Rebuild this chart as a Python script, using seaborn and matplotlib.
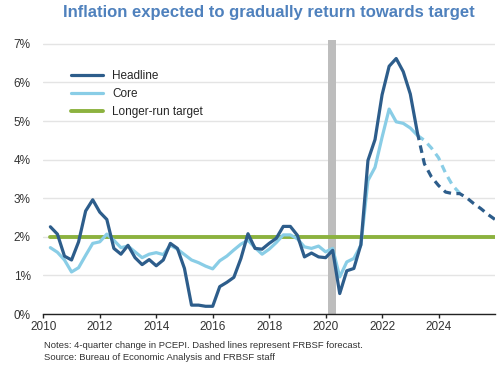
import numpy as np
import pandas as pd
import seaborn as sns
import matplotlib.pyplot as plt

# quarterly 4-quarter change in PCEPI, dated at quarter end
actual_dates = np.arange(2010.25, 2023.26, 0.25)
headline = [2.26, 2.07, 1.50, 1.40, 1.87, 2.67, 2.96, 2.64, 2.45, 1.70,
            1.55, 1.78, 1.46, 1.28, 1.41, 1.25, 1.40, 1.83, 1.70, 1.18,
            0.23, 0.23, 0.20, 0.20, 0.71, 0.82, 0.95, 1.44, 2.08, 1.70,
            1.68, 1.83, 1.96, 2.27, 2.27, 2.04, 1.48, 1.58, 1.48, 1.46,
            1.65, 0.53, 1.12, 1.18, 1.80, 3.98, 4.52, 5.68, 6.42, 6.62,
            6.28, 5.70, 4.70]
core = [1.72, 1.60, 1.40, 1.09, 1.20, 1.52, 1.83, 1.87, 2.07, 1.91,
        1.72, 1.76, 1.61, 1.46, 1.55, 1.59, 1.54, 1.78, 1.68, 1.54,
        1.40, 1.33, 1.24, 1.17, 1.38, 1.50, 1.66, 1.81, 1.91, 1.72,
        1.55, 1.68, 1.85, 2.05, 2.05, 1.95, 1.74, 1.70, 1.76, 1.61,
        1.70, 0.96, 1.35, 1.44, 1.78, 3.46, 3.80, 4.58, 5.31, 4.98,
        4.94, 4.82, 4.63]

# FRBSF forecast
fc_dates = np.arange(2023.25, 2026.01, 0.25)
headline_fc = [4.70, 3.89, 3.55, 3.33, 3.16, 3.12, 3.12, 3.01, 2.86, 2.73, 2.58, 2.45]
core_fc_dates = np.arange(2023.25, 2024.76, 0.25)
core_fc = [4.63, 4.50, 4.30, 4.05, 3.65, 3.33, 3.13]

target_dates = [2010.25, 2026.0]
target = [2.0, 2.0]
recession = (2020.1, 2020.37)

yticks = [0, 1, 2, 3, 4, 5, 6, 7]
xticks = [2010, 2012, 2014, 2016, 2018, 2020, 2022, 2024]

dark = "#2d5d8b"
light = "#89cde6"
green = "#8cb23f"

sns.set_style("white")
plt.rcParams["font.family"] = ["Liberation Sans", "DejaVu Sans"]

fig = plt.figure(figsize=(5, 3.65), dpi=100)
ax = fig.add_axes([0.0866, 0.1397, 0.9034, 0.7507])

ax.axvspan(*recession, color="#bdbdbd", lw=0, zorder=1)
ax.set_yticks(yticks)
ax.yaxis.grid(True, color="#e4e4e4", lw=1, zorder=0)

sns.lineplot(x=core_fc_dates, y=core_fc, ax=ax, color=light, lw=2.3,
             ls=(0, (2.4, 1.7)), zorder=3)
sns.lineplot(x=fc_dates, y=headline_fc, ax=ax, color=dark, lw=2.3,
             ls=(0, (2.4, 1.7)), zorder=4)
sns.lineplot(x=actual_dates, y=core, ax=ax, color=light, lw=2.3, label="Core", zorder=3)
sns.lineplot(x=actual_dates, y=headline, ax=ax, color=dark, lw=2.3, label="Headline", zorder=4)
sns.lineplot(x=target_dates, y=target, ax=ax, color=green, lw=2.8,
             label="Longer-run target", zorder=2)

ax.set_xlim(2010, 2026)
ax.set_ylim(0, 7.1)
ax.set_xticks(xticks)
ax.set_xticklabels([str(x) for x in xticks])
ax.set_yticklabels([f"{y}%" for y in yticks])
for s in ["top", "right", "left"]:
    ax.spines[s].set_visible(False)
ax.spines["bottom"].set_color("#222222")
ax.spines["bottom"].set_linewidth(1.0)
ax.tick_params(axis="x", length=3, width=1, color="#222222", labelsize=8.5,
               labelcolor="#333333", pad=2, bottom=True)
ax.tick_params(axis="y", length=0, labelsize=8.5, labelcolor="#333333", pad=9)

h, l = ax.get_legend_handles_labels()
order = [l.index("Headline"), l.index("Core"), l.index("Longer-run target")]
ax.legend([h[i] for i in order], [l[i] for i in order], loc="upper left",
          bbox_to_anchor=(0.061, 0.89), frameon=False, fontsize=8.5,
          handlelength=2.7, handletextpad=0.8, labelspacing=0.52,
          borderaxespad=0, borderpad=0)

fig.text(0.538, 0.965, "Inflation expected to gradually return towards target",
         ha="center", va="center", fontsize=12, fontweight="bold", color="#4f81bd")
fig.text(0.087, 0.054, "Notes: 4-quarter change in PCEPI. Dashed lines represent FRBSF forecast.",
         fontsize=6.8, color="#333333", va="center")
fig.text(0.087, 0.021, "Source: Bureau of Economic Analysis and FRBSF staff",
         fontsize=6.8, color="#333333", va="center")

fig.savefig("out.png", dpi=100)
